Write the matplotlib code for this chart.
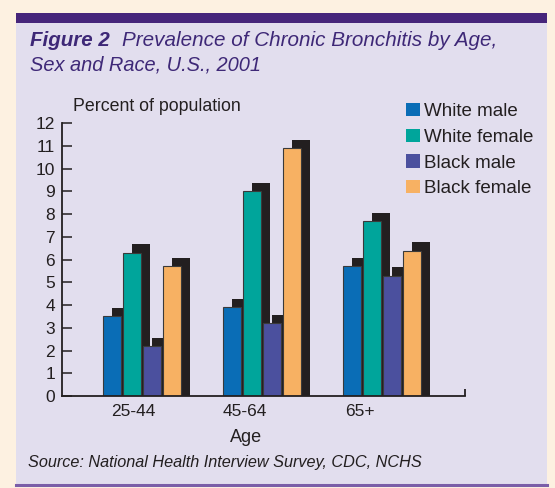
import matplotlib
matplotlib.use("Agg")
import matplotlib.pyplot as plt
import numpy as np
from matplotlib.patches import Rectangle, Patch
from matplotlib.lines import Line2D

# Prevalence of chronic bronchitis (percent of population), U.S., 2001
ages = ["25-44", "45-64", "65+"]
series_names = ["White male", "White female", "Black male", "Black female"]
white_male = [3.5, 3.9, 5.7]
white_female = [6.3, 9.0, 7.7]
black_male = [2.2, 3.2, 5.3]
black_female = [5.7, 10.9, 6.4]
y_ticks = list(range(0, 13))

series_values = [white_male, white_female, black_male, black_female]
series_colors = ["#0A6DB6", "#00A59B", "#4B509E", "#F7B163"]

W, H = 555, 488
plt.rcParams["font.family"] = ["Liberation Sans", "DejaVu Sans"]

fig = plt.figure(figsize=(W / 100, H / 100), dpi=100, facecolor="#FDF1E1")


def fx(px):
    return px / W


def fy(py):
    return 1 - py / H


# panel background, top band and bottom rule
fig.patches.append(Rectangle((fx(16), fy(486)), fx(547) - fx(16), fy(13) - fy(486),
                             transform=fig.transFigure, facecolor="#E2DEEE",
                             edgecolor="none", zorder=-3))
fig.patches.append(Rectangle((fx(16), fy(23)), fx(547) - fx(16), fy(13) - fy(23),
                             transform=fig.transFigure, facecolor="#46257B",
                             edgecolor="none", zorder=-2))
fig.lines.append(Line2D([fx(16), fx(547)], [fy(485), fy(485)], transform=fig.transFigure,
                        color="#7B5EA8", lw=2.2, zorder=-2))

# title
title_color = "#3E2877"
fig.text(fx(30), fy(46), "Figure 2", fontsize=14.8, fontweight="bold",
         fontstyle="italic", color=title_color, va="baseline")
fig.text(fx(122.5), fy(46), "Prevalence of Chronic Bronchitis by Age,", fontsize=14.9,
         fontstyle="italic", color=title_color, va="baseline")
fig.text(fx(30), fy(70.5), "Sex and Race, U.S., 2001", fontsize=14.4,
         fontstyle="italic", color=title_color, va="baseline")

# plot area
ax = fig.add_axes([fx(62), fy(396), fx(465) - fx(62), fy(123.3) - fy(396)])
ax.set_facecolor("none")

x = np.arange(len(ages))
pitch = 0.1667
bar_w = 0.15
shadow_dx = 0.08
shadow_dy = 0.37
offsets = (np.arange(len(series_names)) - 1.5) * pitch

for vals, color, off in zip(series_values, series_colors, offsets):
    vals = np.asarray(vals)
    ax.bar(x + off + shadow_dx, vals + shadow_dy, width=bar_w, color="#231F20",
           edgecolor="none", zorder=1)
for vals, color, off in zip(series_values, series_colors, offsets):
    ax.bar(x + off, vals, width=bar_w, color=color, edgecolor="#3A3A3A",
           linewidth=0.8, zorder=2)

ax.set_xlim(-0.664, 2.694)
ax.set_ylim(0, 12)
ax.set_yticks(y_ticks)
ax.set_yticklabels([str(v) for v in y_ticks])
ax.tick_params(axis="y", direction="in", length=7.5, width=1.1, pad=5,
               labelsize=12.5, colors="#231F20")

label_shift = np.array([0.07, 0.14, 0.18])
ax.set_xticks(x - label_shift)
ax.set_xticklabels(ages)
ax.tick_params(axis="x", length=0, pad=6, labelsize=12.5, colors="#231F20")

for side in ("top", "right"):
    ax.spines[side].set_visible(False)
for side in ("left", "bottom"):
    ax.spines[side].set_color("#231F20")
    ax.spines[side].set_linewidth(1.3)
# short upturned end of the baseline
ax.plot([2.694, 2.694], [0, 0.3], color="#231F20", lw=1.3, clip_on=False,
        solid_capstyle="butt")

fig.text(fx(73), fy(106.5), "Percent of population", fontsize=12.8, color="#231F20",
         va="center", ha="left")
fig.text(fx(246.5), fy(437), "Age", fontsize=13, color="#231F20",
         va="center", ha="center")
fig.text(fx(28), fy(463), "Source: National Health Interview Survey, CDC, NCHS",
         fontsize=11.7, fontstyle="italic", color="#231F20", va="center", ha="left")

handles = [Patch(facecolor=c, edgecolor="none", label=n)
           for c, n in zip(series_colors, series_names)]
fig.legend(handles=handles, loc="upper left", bbox_to_anchor=(fx(406), fy(103)),
           frameon=False, fontsize=13.5, handlelength=0.72, handleheight=0.72,
           handletextpad=0.22, labelspacing=0.45, borderpad=0, borderaxespad=0,
           labelcolor="#231F20")

fig.savefig("out.png", dpi=100, facecolor=fig.get_facecolor())
